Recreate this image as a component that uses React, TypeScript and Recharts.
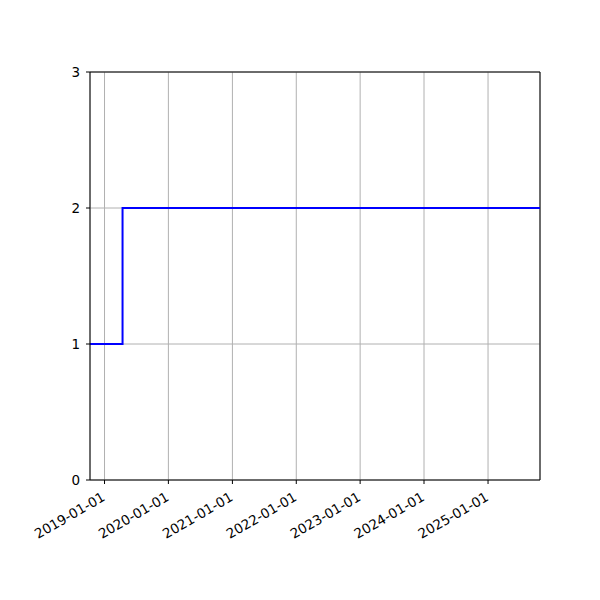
import React from 'react';
import {
  LineChart,
  Line,
  XAxis,
  YAxis,
  CartesianGrid,
  ReferenceLine,
} from 'recharts';

// step points: value holds from each date until the next one
const dates = ['2018-10-10', '2019-04-14', '2025-10-25'];
const values = [1, 2, 2];
const yearTicks = ['2019-01-01', '2020-01-01', '2021-01-01', '2022-01-01', '2023-01-01', '2024-01-01', '2025-01-01'];
const yTicks = [0, 1, 2, 3];

const toTs = (d: string) => Date.parse(d + 'T00:00:00Z');

const data = dates.map((d, i) => ({ t: toTs(d), v: values[i] }));
const xTicks = yearTicks.map(toTs);
const xStart = data[0].t;
const xEnd = data[data.length - 1].t;

const fmtDate = (ts: number) => new Date(ts).toISOString().slice(0, 10);

const FONT = 'DejaVu Sans, sans-serif';

function DateTick(props: any) {
  const { x, y, payload } = props;
  return (
    <g transform={`translate(${x - 3},${y + 6})`}>
      <text
        x={0}
        y={0}
        dy={9}
        textAnchor="end"
        transform="rotate(-30)"
        fontSize={13.5}
        fontFamily={FONT}
        fill="#000"
      >
        {fmtDate(payload.value)}
      </text>
    </g>
  );
}

export default function App() {
  return (
    <div style={{ position: 'absolute', left: 0, top: 0, width: 600, height: 600, background: '#fff' }}>
      <LineChart
        width={600}
        height={600}
        data={data}
        margin={{ top: 72, right: 60, bottom: 0, left: 0 }}
      >
        <CartesianGrid stroke="#b0b0b0" strokeWidth={1} />
        <XAxis
          dataKey="t"
          type="number"
          scale="time"
          domain={[xStart, xEnd]}
          ticks={xTicks}
          tick={<DateTick />}
          tickSize={4}
          stroke="#000"
          tickLine={{ stroke: '#000' }}
          axisLine={{ stroke: '#000' }}
          height={120}
          interval={0}
          allowDataOverflow
        />
        <YAxis
          domain={[0, 3]}
          ticks={yTicks}
          width={90}
          tickSize={4}
          stroke="#000"
          tick={{ fill: '#000', fontSize: 13.5, fontFamily: FONT }}
          tickMargin={6}
          axisLine={{ stroke: '#000' }}
          interval={0}
        />
        <ReferenceLine y={3} stroke="#000" strokeWidth={1} />
        <ReferenceLine x={xEnd} stroke="#000" strokeWidth={1} />
        <Line
          type="stepAfter"
          dataKey="v"
          stroke="#0000ff"
          strokeWidth={2}
          dot={false}
          isAnimationActive={false}
        />
      </LineChart>
    </div>
  );
}
